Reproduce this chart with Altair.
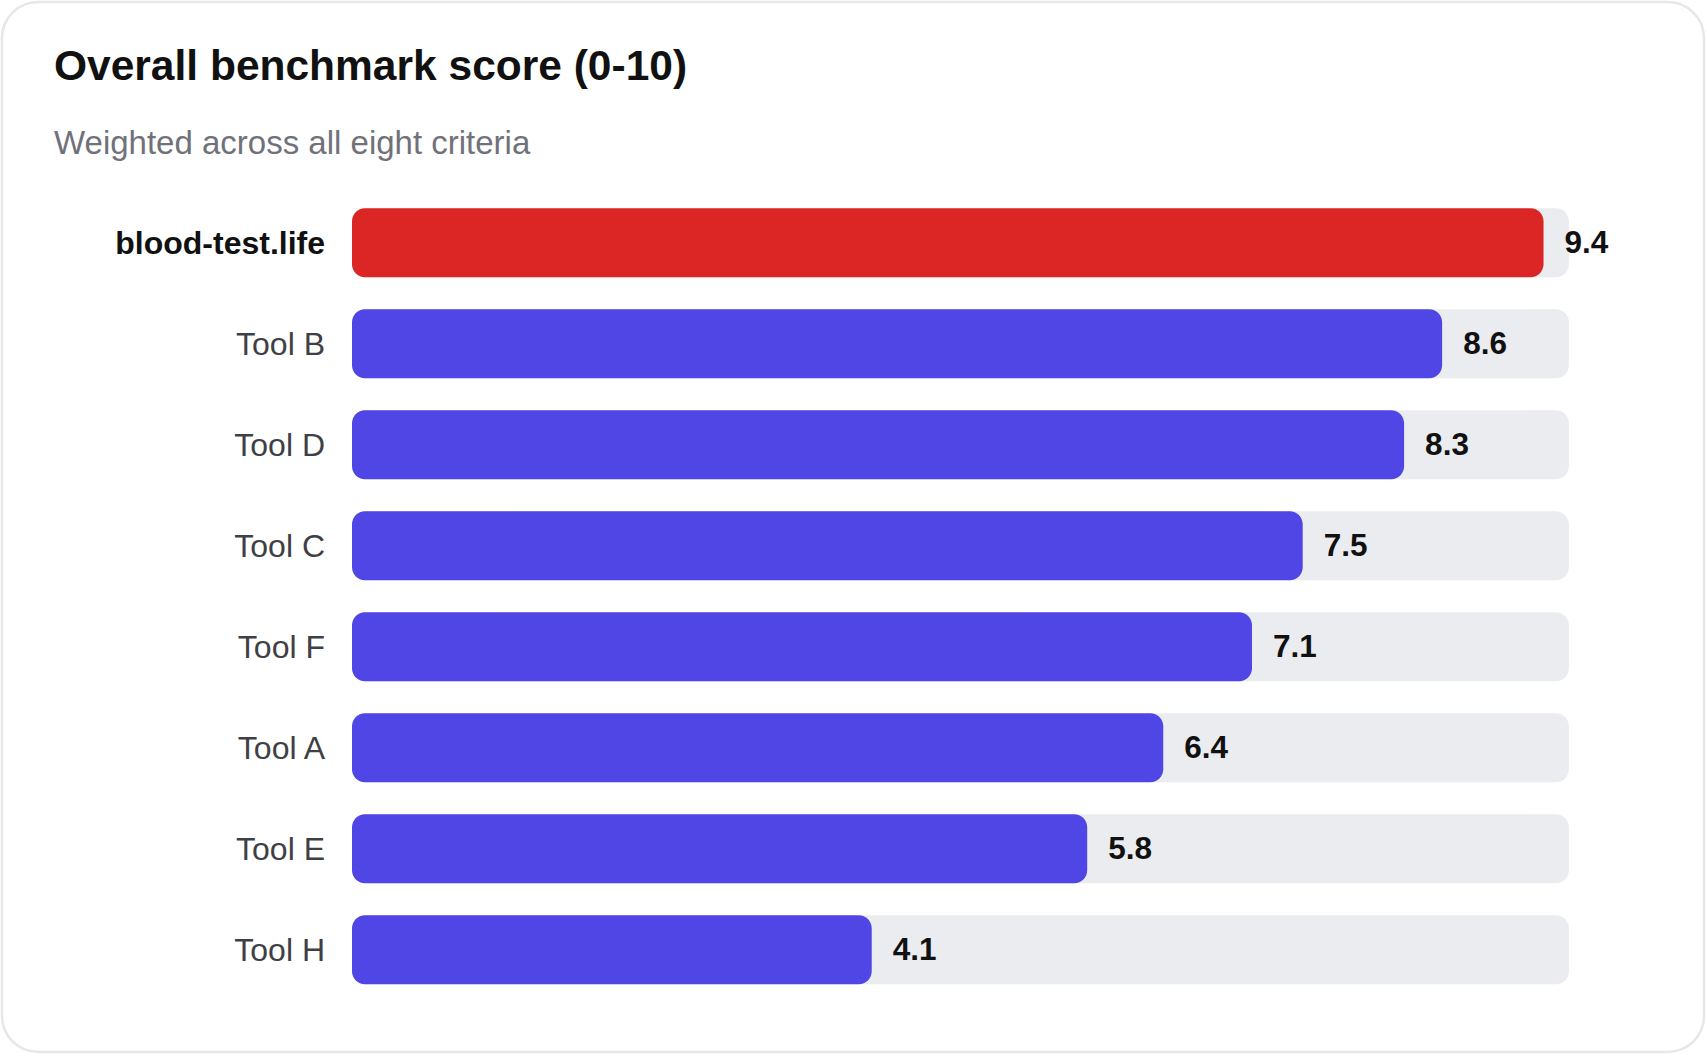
import altair as alt
import pandas as pd

# ---- data ----
tools = ["blood-test.life", "Tool B", "Tool D", "Tool C", "Tool F", "Tool A", "Tool E", "Tool H"]
scores = [9.4, 8.6, 8.3, 7.5, 7.1, 6.4, 5.8, 4.1]
highlight = ["blood-test.life"]
track_max = [9.6]
title_text = ["Overall benchmark score (0-10)"]
subtitle_text = ["Weighted across all eight criteria"]

df = pd.DataFrame({"tool": tools, "score": scores})
df["zero"] = 0.0
df["track"] = track_max[0]
df["label"] = [f"{v:.1f}" for v in scores]

FONT = "Liberation Sans"
RED = "#dc2626"
BLUE = "#4f46e5"
TRACK = "#ebecf0"

W, H = 1702, 1050

x_scale = alt.Scale(domain=[0, 10], range=[350, 1617.6])
y_scale = alt.Scale(domain=tools, range=[190.3, 998.3], paddingInner=0.317, paddingOuter=0.1585)

base = alt.Chart(df)
X0 = alt.X("zero:Q", scale=x_scale, axis=None)
Y = alt.Y("tool:N", scale=y_scale, axis=None, sort=tools)

is_hl = alt.FieldOneOfPredicate(field="tool", oneOf=highlight)

track = base.mark_bar(cornerRadius=13, color=TRACK).encode(x=X0, x2="track:Q", y=Y)

bars = base.mark_bar(cornerRadius=13).encode(
    x=X0, x2="score:Q", y=Y,
    color=alt.condition(is_hl, alt.value(RED), alt.value(BLUE)),
)

values = base.mark_text(
    align="left", baseline="middle", dx=21, dy=1, fontSize=31.5, fontWeight="bold",
    font=FONT, color="#111111",
).encode(x=alt.X("score:Q", scale=x_scale, axis=None), y=Y, text="label:N")

cat_regular = base.transform_filter(~is_hl).mark_text(
    align="right", baseline="middle", dx=-27, dy=1, fontSize=32, font=FONT, color="#3f3f46",
).encode(x=X0, y=Y, text="tool:N")

cat_hl = base.transform_filter(is_hl).mark_text(
    align="right", baseline="middle", dx=-27, dy=1, fontSize=32, fontWeight="bold",
    font=FONT, color="#111111",
).encode(x=X0, y=Y, text="tool:N")

title = alt.Chart(pd.DataFrame({"t": title_text})).mark_text(
    align="left", baseline="alphabetic", fontSize=42.5, fontWeight="bold",
    font=FONT, color="#111111",
).encode(x=alt.value(52), y=alt.value(78), text="t:N")

subtitle = alt.Chart(pd.DataFrame({"t": subtitle_text})).mark_text(
    align="left", baseline="alphabetic", fontSize=33, font=FONT, color="#71717a",
).encode(x=alt.value(52), y=alt.value(152), text="t:N")

chart = alt.layer(track, bars, values, cat_regular, cat_hl, title, subtitle).properties(
    width=W, height=H,
    padding={"left": 2, "top": 2, "right": 3, "bottom": 4},
    autosize=alt.AutoSizeParams(type="none"),
    background="white",
).configure_view(
    fill="white", stroke="#e5e7eb", strokeWidth=2.5, cornerRadius=36,
)

chart.save("out.html", embed_options={"renderer": "svg", "actions": False})
